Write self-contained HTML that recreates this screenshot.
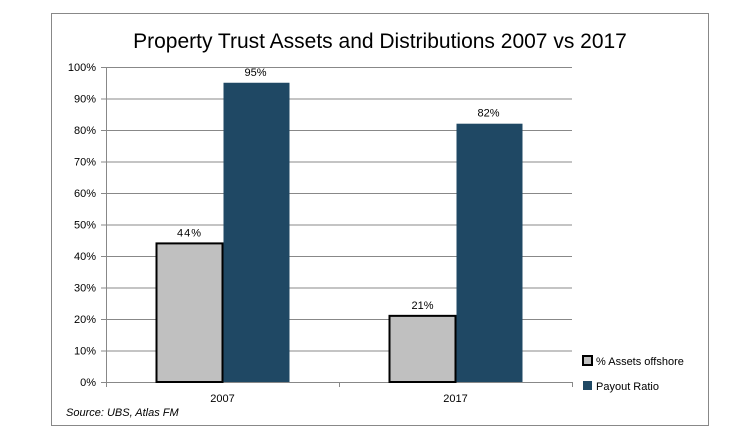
<!DOCTYPE html>
<html><head><meta charset="utf-8"><style>
body{margin:0;background:#fff;}
svg{display:block;font-family:"Liberation Sans",Arial,sans-serif;}
</style></head><body>
<svg width="730" height="436">
<rect x="51.5" y="13.5" width="657" height="412" fill="#fff" stroke="#888" stroke-width="1"/>
<text x="380" y="48" text-anchor="middle" font-size="21" fill="#000">Property Trust Assets and Distributions 2007 vs 2017</text>
<g id="grid"></g><g id="bars"></g><g id="labels"></g>
<g>
<rect x="583" y="356" width="9" height="9" fill="#c0c0c0" stroke="#000" stroke-width="2"/>
<text x="596" y="365" font-size="11" fill="#000">% Assets offshore</text>
<rect x="583" y="381" width="9" height="9" fill="#1f4864"/>
<text x="596" y="390" font-size="11" fill="#000">Payout Ratio</text>
</g>
<text x="66" y="416" font-size="11" font-style="italic" fill="#000">Source: UBS, Atlas FM</text>
</svg>
<script>
const categories=["2007","2017"];
const assetsOffshore=[44,21];
const payoutRatio=[95,82];
const yTicks=[0,10,20,30,40,50,60,70,80,90,100];
const NS="http://www.w3.org/2000/svg";
const x0=106,x1=572,yBase=382,yTop=67;
const y=v=>yBase-(v/100)*(yBase-yTop);
const catW=(x1-x0)/categories.length;
const cx=i=>x0+catW*(i+0.5);
const barW=66;
function mk(tag,attrs,parent){const e=document.createElementNS(NS,tag);for(const k in attrs)e.setAttribute(k,attrs[k]);document.getElementById(parent).appendChild(e);return e;}
yTicks.forEach(t=>{
  const l=mk('line',{x1:x0-5,x2:x1,y1:y(t)+0.5,y2:y(t)+0.5,stroke:'#888','stroke-width':1},'grid');
  
  
  const tx=mk('text',{x:x0-10,y:y(t)+4,'text-anchor':'end','font-size':11,fill:'#000'},'grid');
  tx.textContent=t+'%';
  
  
});
const ax=mk('line',{x1:x0+0.5,x2:x0+0.5,y1:yTop,y2:yBase,stroke:'#888'},'grid');


[0,1,2].forEach(i=>{const tk=mk('line',{x1:x0+catW*i+0.5,x2:x0+catW*i+0.5,y1:yBase,y2:yBase+5,stroke:'#888'},'grid');

});
categories.forEach((c,i)=>{
  const a=mk('rect',{x:cx(i)-barW,y:y(assetsOffshore[i]),width:barW,height:yBase-y(assetsOffshore[i]),fill:'#c0c0c0',stroke:'#000','stroke-width':2},'bars');
  
  
  const p=mk('rect',{x:cx(i)+1,y:y(payoutRatio[i]),width:barW,height:yBase-y(payoutRatio[i]),fill:'#1f4864'},'bars');
  
  
  const la=mk('text',{x:cx(i)-barW/2,y:y(assetsOffshore[i])-7,'text-anchor':'middle','font-size':11,fill:'#000','letter-spacing':i==0?'1':'0'},'labels');
  la.textContent=assetsOffshore[i]+'%';
  
  
  const lp=mk('text',{x:cx(i)+barW/2,y:y(payoutRatio[i])-7,'text-anchor':'middle','font-size':11,fill:'#000'},'labels');
  lp.textContent=payoutRatio[i]+'%';
  
  
  const xl=mk('text',{x:cx(i),y:yBase+20,'text-anchor':'middle','font-size':11,fill:'#000'},'labels');
  xl.textContent=c;
  
  
});
</script>
</body></html>
